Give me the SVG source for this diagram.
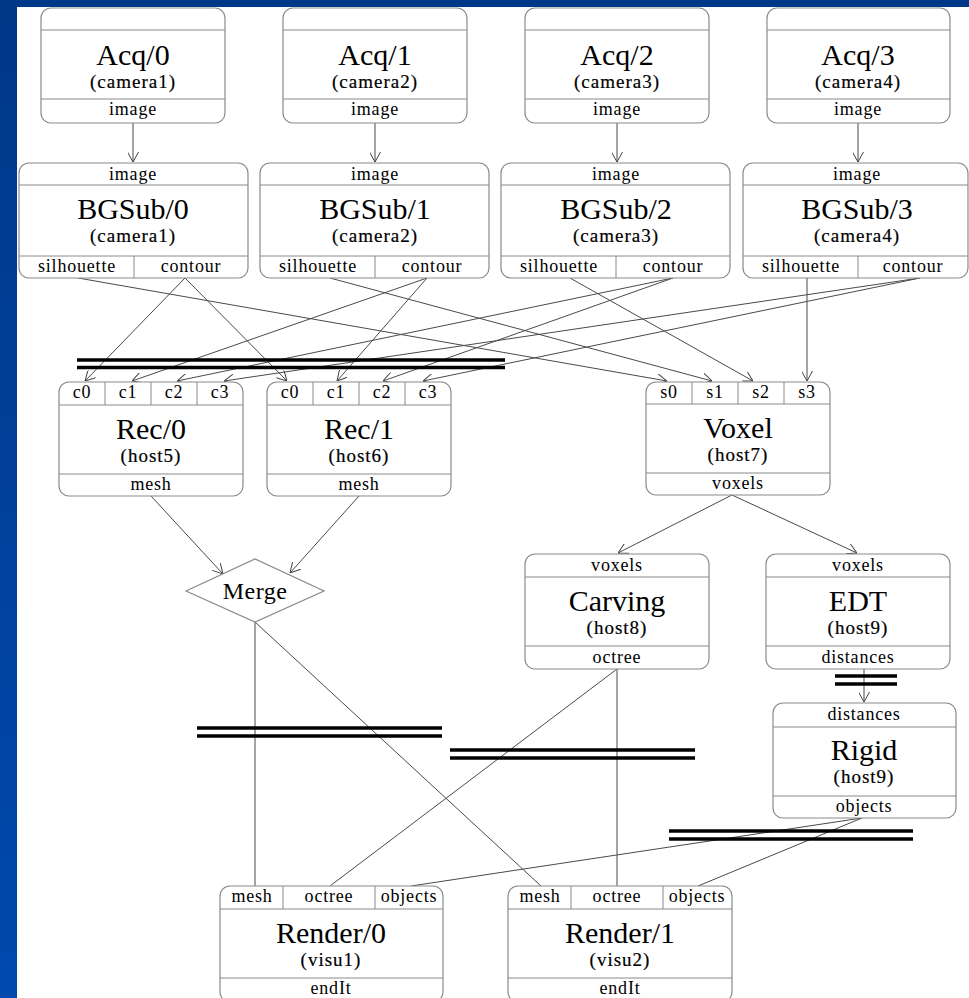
<svg xmlns="http://www.w3.org/2000/svg" width="969" height="998" viewBox="0 0 969 998">
  <defs>
    <linearGradient id="frame" x1="0" y1="0" x2="0" y2="1">
      <stop offset="0" stop-color="#003888"/>
      <stop offset="1" stop-color="#0049ae"/>
    </linearGradient>
    <marker id="vee" viewBox="0 0 10 11" refX="10" refY="5.5" markerWidth="10" markerHeight="11" markerUnits="userSpaceOnUse" orient="auto">
      <path d="M0,0 L10,5.5 L0,11" fill="none" stroke="#444" stroke-width="1"/>
    </marker>
    <style>
      .box { fill: #fff; stroke: #8a8a8a; stroke-width: 1.2; }
      .sep { stroke: #8a8a8a; stroke-width: 1; }
      text { font-family: 'Liberation Serif', 'Times New Roman', serif; fill: #000; text-anchor: middle; }
      .title { font-size: 30px; }
      .host { font-size: 19px; letter-spacing: 1px; stroke: #000; stroke-width: 0.2px; }
      .port { font-size: 18px; letter-spacing: 0.8px; }
      .merge { font-size: 24px; letter-spacing: 0.5px; }
      .edge { fill: none; stroke: #4a4a4a; stroke-width: 1; }
      .arrow { marker-end: url(#vee); }
      .bar { stroke: #000; stroke-width: 3.5; }
    </style>
  </defs>

  <!-- frame -->
  <rect x="0" y="0" width="969" height="998" fill="url(#frame)"/>
  <rect x="17" y="7" width="952" height="991" fill="#fff"/>

  <!-- connectors -->
  <g id="connectors">
    <!-- Acq -> BGSub -->
    <line class="edge arrow" x1="133" y1="123" x2="133" y2="162"/>
    <line class="edge arrow" x1="375" y1="123" x2="375" y2="162"/>
    <line class="edge arrow" x1="617" y1="123" x2="617" y2="162"/>
    <line class="edge arrow" x1="858" y1="123" x2="858" y2="162"/>
    <!-- contour -> Rec -->
    <line class="edge arrow" x1="185" y1="278" x2="85" y2="381"/>
    <line class="edge arrow" x1="185" y1="278" x2="287" y2="381"/>
    <line class="edge arrow" x1="427" y1="278" x2="132" y2="381"/>
    <line class="edge arrow" x1="427" y1="278" x2="337" y2="381"/>
    <line class="edge arrow" x1="673" y1="278" x2="177" y2="381"/>
    <line class="edge arrow" x1="673" y1="278" x2="383" y2="381"/>
    <line class="edge arrow" x1="920" y1="278" x2="224" y2="381"/>
    <line class="edge arrow" x1="920" y1="278" x2="423" y2="381"/>
    <!-- silhouette -> Voxel -->
    <line class="edge arrow" x1="78" y1="278" x2="667" y2="381"/>
    <line class="edge arrow" x1="330" y1="278" x2="712" y2="381"/>
    <line class="edge arrow" x1="570" y1="278" x2="753" y2="381"/>
    <line class="edge arrow" x1="807" y1="278" x2="807" y2="381"/>
    <!-- Rec -> Merge -->
    <line class="edge arrow" x1="151" y1="496" x2="223" y2="574"/>
    <line class="edge arrow" x1="359" y1="496" x2="290" y2="573"/>
    <!-- Voxel -> Carving, EDT -->
    <line class="edge arrow" x1="732" y1="495" x2="618" y2="553"/>
    <line class="edge arrow" x1="732" y1="495" x2="857" y2="553"/>
    <!-- EDT -> Rigid -->
    <line class="edge arrow" x1="864" y1="669" x2="864" y2="702"/>
    <!-- into Render -->
    <line class="edge" x1="255" y1="622" x2="255" y2="886"/>
    <line class="edge" x1="255" y1="622" x2="541" y2="886"/>
    <line class="edge" x1="617" y1="669" x2="330" y2="886"/>
    <line class="edge" x1="617" y1="669" x2="617" y2="886"/>
    <line class="edge" x1="862" y1="818" x2="411" y2="886"/>
    <line class="edge" x1="862" y1="818" x2="698" y2="886"/>
    <!-- double bars -->
    <line class="bar" x1="77" y1="360" x2="505" y2="360"/>
    <line class="bar" x1="77" y1="367.5" x2="505" y2="367.5"/>
    <line class="bar" x1="197" y1="728" x2="442" y2="728"/>
    <line class="bar" x1="197" y1="736" x2="442" y2="736"/>
    <line class="bar" x1="450" y1="750" x2="695" y2="750"/>
    <line class="bar" x1="450" y1="758" x2="695" y2="758"/>
    <line class="bar" x1="669" y1="831" x2="913" y2="831"/>
    <line class="bar" x1="669" y1="839" x2="913" y2="839"/>
    <line class="bar" x1="835" y1="676" x2="897" y2="676"/>
    <line class="bar" x1="835" y1="684" x2="897" y2="684"/>
  </g>

  <!-- Acq nodes -->
  <g id="acq0">
    <rect class="box" x="41" y="8" width="184" height="115" rx="10"/>
    <line class="sep" x1="41" y1="30" x2="225" y2="30"/>
    <line class="sep" x1="41" y1="99" x2="225" y2="99"/>
    <text class="title" x="133" y="65">Acq/0</text>
    <text class="host" x="133" y="88">(camera1)</text>
    <text class="port" x="133" y="115">image</text>
  </g>
  <g id="acq1">
    <rect class="box" x="283" y="8" width="184" height="115" rx="10"/>
    <line class="sep" x1="283" y1="30" x2="467" y2="30"/>
    <line class="sep" x1="283" y1="99" x2="467" y2="99"/>
    <text class="title" x="375" y="65">Acq/1</text>
    <text class="host" x="375" y="88">(camera2)</text>
    <text class="port" x="375" y="115">image</text>
  </g>
  <g id="acq2">
    <rect class="box" x="525" y="8" width="184" height="115" rx="10"/>
    <line class="sep" x1="525" y1="30" x2="709" y2="30"/>
    <line class="sep" x1="525" y1="99" x2="709" y2="99"/>
    <text class="title" x="617" y="65">Acq/2</text>
    <text class="host" x="617" y="88">(camera3)</text>
    <text class="port" x="617" y="115">image</text>
  </g>
  <g id="acq3">
    <rect class="box" x="767" y="8" width="183" height="115" rx="10"/>
    <line class="sep" x1="767" y1="30" x2="950" y2="30"/>
    <line class="sep" x1="767" y1="99" x2="950" y2="99"/>
    <text class="title" x="858" y="65">Acq/3</text>
    <text class="host" x="858" y="88">(camera4)</text>
    <text class="port" x="858" y="115">image</text>
  </g>

  <!-- BGSub nodes -->
  <g id="bgsub0">
    <rect class="box" x="19" y="163" width="229" height="115" rx="10"/>
    <line class="sep" x1="19" y1="185" x2="248" y2="185"/>
    <line class="sep" x1="19" y1="256" x2="248" y2="256"/>
    <line class="sep" x1="134" y1="256" x2="134" y2="278"/>
    <text class="port" x="133" y="180">image</text>
    <text class="title" x="133" y="219">BGSub/0</text>
    <text class="host" x="133" y="242">(camera1)</text>
    <text class="port" x="77" y="272">silhouette</text>
    <text class="port" x="191" y="272">contour</text>
  </g>
  <g id="bgsub1">
    <rect class="box" x="260" y="163" width="229" height="115" rx="10"/>
    <line class="sep" x1="260" y1="185" x2="489" y2="185"/>
    <line class="sep" x1="260" y1="256" x2="489" y2="256"/>
    <line class="sep" x1="375" y1="256" x2="375" y2="278"/>
    <text class="port" x="375" y="180">image</text>
    <text class="title" x="375" y="219">BGSub/1</text>
    <text class="host" x="375" y="242">(camera2)</text>
    <text class="port" x="318" y="272">silhouette</text>
    <text class="port" x="432" y="272">contour</text>
  </g>
  <g id="bgsub2">
    <rect class="box" x="501" y="163" width="229" height="115" rx="10"/>
    <line class="sep" x1="501" y1="185" x2="730" y2="185"/>
    <line class="sep" x1="501" y1="256" x2="730" y2="256"/>
    <line class="sep" x1="616" y1="256" x2="616" y2="278"/>
    <text class="port" x="616" y="180">image</text>
    <text class="title" x="616" y="219">BGSub/2</text>
    <text class="host" x="616" y="242">(camera3)</text>
    <text class="port" x="559" y="272">silhouette</text>
    <text class="port" x="673" y="272">contour</text>
  </g>
  <g id="bgsub3">
    <rect class="box" x="743" y="163" width="225" height="115" rx="10"/>
    <line class="sep" x1="743" y1="185" x2="968" y2="185"/>
    <line class="sep" x1="743" y1="256" x2="968" y2="256"/>
    <line class="sep" x1="858" y1="256" x2="858" y2="278"/>
    <text class="port" x="857" y="180">image</text>
    <text class="title" x="857" y="219">BGSub/3</text>
    <text class="host" x="857" y="242">(camera4)</text>
    <text class="port" x="801" y="272">silhouette</text>
    <text class="port" x="913" y="272">contour</text>
  </g>

  <!-- Rec nodes -->
  <g id="rec0">
    <rect class="box" x="59" y="382" width="184" height="114" rx="10"/>
    <line class="sep" x1="59" y1="405" x2="243" y2="405"/>
    <line class="sep" x1="59" y1="474" x2="243" y2="474"/>
    <line class="sep" x1="105" y1="382" x2="105" y2="405"/>
    <line class="sep" x1="151" y1="382" x2="151" y2="405"/>
    <line class="sep" x1="197" y1="382" x2="197" y2="405"/>
    <text class="port" x="82" y="398">c0</text>
    <text class="port" x="128" y="398">c1</text>
    <text class="port" x="174" y="398">c2</text>
    <text class="port" x="220" y="398">c3</text>
    <text class="title" x="151" y="439">Rec/0</text>
    <text class="host" x="151" y="462">(host5)</text>
    <text class="port" x="151" y="490">mesh</text>
  </g>
  <g id="rec1">
    <rect class="box" x="267" y="382" width="184" height="114" rx="10"/>
    <line class="sep" x1="267" y1="405" x2="451" y2="405"/>
    <line class="sep" x1="267" y1="474" x2="451" y2="474"/>
    <line class="sep" x1="313" y1="382" x2="313" y2="405"/>
    <line class="sep" x1="359" y1="382" x2="359" y2="405"/>
    <line class="sep" x1="405" y1="382" x2="405" y2="405"/>
    <text class="port" x="290" y="398">c0</text>
    <text class="port" x="336" y="398">c1</text>
    <text class="port" x="382" y="398">c2</text>
    <text class="port" x="428" y="398">c3</text>
    <text class="title" x="359" y="439">Rec/1</text>
    <text class="host" x="359" y="462">(host6)</text>
    <text class="port" x="359" y="490">mesh</text>
  </g>

  <!-- Voxel node -->
  <g id="voxel">
    <rect class="box" x="646" y="382" width="184" height="113" rx="10"/>
    <line class="sep" x1="646" y1="404" x2="830" y2="404"/>
    <line class="sep" x1="646" y1="473" x2="830" y2="473"/>
    <line class="sep" x1="692" y1="382" x2="692" y2="404"/>
    <line class="sep" x1="738" y1="382" x2="738" y2="404"/>
    <line class="sep" x1="784" y1="382" x2="784" y2="404"/>
    <text class="port" x="669" y="398">s0</text>
    <text class="port" x="715" y="398">s1</text>
    <text class="port" x="761" y="398">s2</text>
    <text class="port" x="807" y="398">s3</text>
    <text class="title" x="738" y="438">Voxel</text>
    <text class="host" x="738" y="461">(host7)</text>
    <text class="port" x="738" y="489">voxels</text>
  </g>

  <!-- Merge node -->
  <g id="merge">
    <polygon points="186,591 255,559 324,591 255,622" fill="#fff" stroke="#8a8a8a" stroke-width="1.2"/>
    <text class="merge" x="255" y="599">Merge</text>
  </g>

  <!-- Carving node -->
  <g id="carving">
    <rect class="box" x="525" y="554" width="184" height="115" rx="10"/>
    <line class="sep" x1="525" y1="577" x2="709" y2="577"/>
    <line class="sep" x1="525" y1="646" x2="709" y2="646"/>
    <text class="port" x="617" y="571">voxels</text>
    <text class="title" x="617" y="611">Carving</text>
    <text class="host" x="617" y="634">(host8)</text>
    <text class="port" x="617" y="663">octree</text>
  </g>

  <!-- EDT node -->
  <g id="edt">
    <rect class="box" x="766" y="554" width="184" height="115" rx="10"/>
    <line class="sep" x1="766" y1="577" x2="950" y2="577"/>
    <line class="sep" x1="766" y1="646" x2="950" y2="646"/>
    <text class="port" x="858" y="571">voxels</text>
    <text class="title" x="858" y="611">EDT</text>
    <text class="host" x="858" y="634">(host9)</text>
    <text class="port" x="858" y="663">distances</text>
  </g>

  <!-- Rigid node -->
  <g id="rigid">
    <rect class="box" x="773" y="703" width="183" height="115" rx="10"/>
    <line class="sep" x1="773" y1="727" x2="956" y2="727"/>
    <line class="sep" x1="773" y1="796" x2="956" y2="796"/>
    <text class="port" x="864" y="720">distances</text>
    <text class="title" x="864" y="760">Rigid</text>
    <text class="host" x="864" y="783">(host9)</text>
    <text class="port" x="864" y="812">objects</text>
  </g>

  <!-- Render nodes -->
  <g id="render0">
    <rect class="box" x="220" y="886" width="223" height="116" rx="10"/>
    <line class="sep" x1="220" y1="909" x2="443" y2="909"/>
    <line class="sep" x1="220" y1="978" x2="443" y2="978"/>
    <line class="sep" x1="283" y1="886" x2="283" y2="909"/>
    <line class="sep" x1="375" y1="886" x2="375" y2="909"/>
    <text class="port" x="252" y="902">mesh</text>
    <text class="port" x="329" y="902">octree</text>
    <text class="port" x="409" y="902">objects</text>
    <text class="title" x="331" y="943">Render/0</text>
    <text class="host" x="331" y="966">(visu1)</text>
    <text class="port" x="331" y="994">endIt</text>
  </g>
  <g id="render1">
    <rect class="box" x="508" y="886" width="224" height="116" rx="10"/>
    <line class="sep" x1="508" y1="909" x2="732" y2="909"/>
    <line class="sep" x1="508" y1="978" x2="732" y2="978"/>
    <line class="sep" x1="571" y1="886" x2="571" y2="909"/>
    <line class="sep" x1="663" y1="886" x2="663" y2="909"/>
    <text class="port" x="540" y="902">mesh</text>
    <text class="port" x="617" y="902">octree</text>
    <text class="port" x="697" y="902">objects</text>
    <text class="title" x="620" y="943">Render/1</text>
    <text class="host" x="620" y="966">(visu2)</text>
    <text class="port" x="620" y="994">endIt</text>
  </g>
</svg>
